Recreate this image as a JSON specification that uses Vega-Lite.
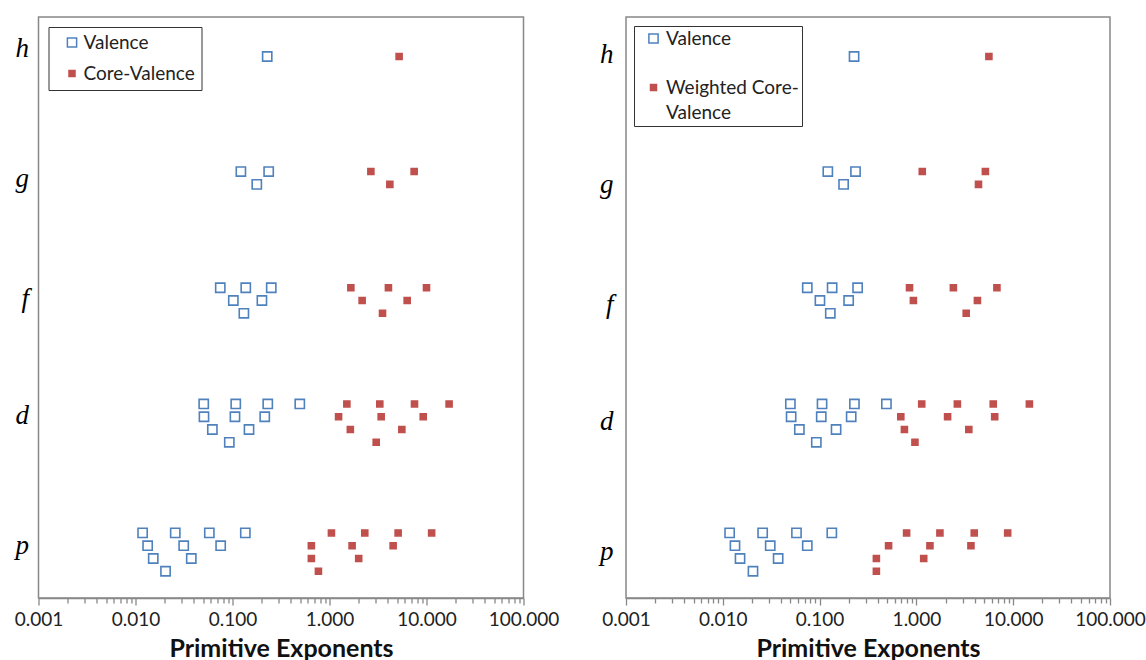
{
  "$schema": "https://vega.github.io/schema/vega-lite/v6.json",
  "padding": {"left": 12.5, "top": 16, "right": 0, "bottom": 0},
  "bounds": "flush",
  "spacing": 102.5,
  "datasets": {
    "left": [
      {"x": 0.228, "y": 4.66, "s": "Valence"},
      {"x": 0.122, "y": 3.67, "s": "Valence"},
      {"x": 0.236, "y": 3.67, "s": "Valence"},
      {"x": 0.178, "y": 3.56, "s": "Valence"},
      {"x": 0.0748, "y": 2.67, "s": "Valence"},
      {"x": 0.137, "y": 2.67, "s": "Valence"},
      {"x": 0.251, "y": 2.67, "s": "Valence"},
      {"x": 0.102, "y": 2.56, "s": "Valence"},
      {"x": 0.201, "y": 2.56, "s": "Valence"},
      {"x": 0.131, "y": 2.45, "s": "Valence"},
      {"x": 0.0505, "y": 1.67, "s": "Valence"},
      {"x": 0.108, "y": 1.67, "s": "Valence"},
      {"x": 0.231, "y": 1.67, "s": "Valence"},
      {"x": 0.494, "y": 1.67, "s": "Valence"},
      {"x": 0.0508, "y": 1.56, "s": "Valence"},
      {"x": 0.106, "y": 1.56, "s": "Valence"},
      {"x": 0.215, "y": 1.56, "s": "Valence"},
      {"x": 0.062, "y": 1.45, "s": "Valence"},
      {"x": 0.148, "y": 1.45, "s": "Valence"},
      {"x": 0.0927, "y": 1.34, "s": "Valence"},
      {"x": 0.01184, "y": 0.56, "s": "Valence"},
      {"x": 0.0257, "y": 0.56, "s": "Valence"},
      {"x": 0.0577, "y": 0.56, "s": "Valence"},
      {"x": 0.1356, "y": 0.56, "s": "Valence"},
      {"x": 0.01334, "y": 0.45, "s": "Valence"},
      {"x": 0.0314, "y": 0.45, "s": "Valence"},
      {"x": 0.0755, "y": 0.45, "s": "Valence"},
      {"x": 0.01524, "y": 0.34, "s": "Valence"},
      {"x": 0.0376, "y": 0.34, "s": "Valence"},
      {"x": 0.0204, "y": 0.23, "s": "Valence"},
      {"x": 5.22, "y": 4.66, "s": "Core-Valence"},
      {"x": 2.67, "y": 3.67, "s": "Core-Valence"},
      {"x": 7.46, "y": 3.67, "s": "Core-Valence"},
      {"x": 4.19, "y": 3.56, "s": "Core-Valence"},
      {"x": 1.66, "y": 2.67, "s": "Core-Valence"},
      {"x": 4.05, "y": 2.67, "s": "Core-Valence"},
      {"x": 10.0, "y": 2.67, "s": "Core-Valence"},
      {"x": 2.17, "y": 2.56, "s": "Core-Valence"},
      {"x": 6.32, "y": 2.56, "s": "Core-Valence"},
      {"x": 3.52, "y": 2.45, "s": "Core-Valence"},
      {"x": 1.51, "y": 1.67, "s": "Core-Valence"},
      {"x": 3.30, "y": 1.67, "s": "Core-Valence"},
      {"x": 7.52, "y": 1.67, "s": "Core-Valence"},
      {"x": 17.1, "y": 1.67, "s": "Core-Valence"},
      {"x": 1.24, "y": 1.56, "s": "Core-Valence"},
      {"x": 3.41, "y": 1.56, "s": "Core-Valence"},
      {"x": 9.25, "y": 1.56, "s": "Core-Valence"},
      {"x": 1.64, "y": 1.45, "s": "Core-Valence"},
      {"x": 5.57, "y": 1.45, "s": "Core-Valence"},
      {"x": 3.03, "y": 1.34, "s": "Core-Valence"},
      {"x": 1.047, "y": 0.56, "s": "Core-Valence"},
      {"x": 2.31, "y": 0.56, "s": "Core-Valence"},
      {"x": 5.10, "y": 0.56, "s": "Core-Valence"},
      {"x": 11.3, "y": 0.56, "s": "Core-Valence"},
      {"x": 0.650, "y": 0.45, "s": "Core-Valence"},
      {"x": 1.71, "y": 0.45, "s": "Core-Valence"},
      {"x": 4.53, "y": 0.45, "s": "Core-Valence"},
      {"x": 0.650, "y": 0.34, "s": "Core-Valence"},
      {"x": 2.0, "y": 0.34, "s": "Core-Valence"},
      {"x": 0.769, "y": 0.23, "s": "Core-Valence"}
    ],
    "right": [
      {"x": 0.227, "y": 4.66, "s": "Valence"},
      {"x": 0.1216, "y": 3.67, "s": "Valence"},
      {"x": 0.235, "y": 3.67, "s": "Valence"},
      {"x": 0.177, "y": 3.56, "s": "Valence"},
      {"x": 0.0746, "y": 2.67, "s": "Valence"},
      {"x": 0.1347, "y": 2.67, "s": "Valence"},
      {"x": 0.247, "y": 2.67, "s": "Valence"},
      {"x": 0.1008, "y": 2.56, "s": "Valence"},
      {"x": 0.1995, "y": 2.56, "s": "Valence"},
      {"x": 0.129, "y": 2.45, "s": "Valence"},
      {"x": 0.0499, "y": 1.67, "s": "Valence"},
      {"x": 0.106, "y": 1.67, "s": "Valence"},
      {"x": 0.229, "y": 1.67, "s": "Valence"},
      {"x": 0.49, "y": 1.67, "s": "Valence"},
      {"x": 0.0508, "y": 1.56, "s": "Valence"},
      {"x": 0.104, "y": 1.56, "s": "Valence"},
      {"x": 0.212, "y": 1.56, "s": "Valence"},
      {"x": 0.0618, "y": 1.45, "s": "Valence"},
      {"x": 0.148, "y": 1.45, "s": "Valence"},
      {"x": 0.0925, "y": 1.34, "s": "Valence"},
      {"x": 0.01176, "y": 0.56, "s": "Valence"},
      {"x": 0.0258, "y": 0.56, "s": "Valence"},
      {"x": 0.0577, "y": 0.56, "s": "Valence"},
      {"x": 0.1337, "y": 0.56, "s": "Valence"},
      {"x": 0.01336, "y": 0.45, "s": "Valence"},
      {"x": 0.0309, "y": 0.45, "s": "Valence"},
      {"x": 0.0746, "y": 0.45, "s": "Valence"},
      {"x": 0.01507, "y": 0.34, "s": "Valence"},
      {"x": 0.0373, "y": 0.34, "s": "Valence"},
      {"x": 0.0205, "y": 0.23, "s": "Valence"},
      {"x": 5.61, "y": 4.66, "s": "Weighted Core-Valence"},
      {"x": 1.15, "y": 3.67, "s": "Weighted Core-Valence"},
      {"x": 5.16, "y": 3.67, "s": "Weighted Core-Valence"},
      {"x": 4.38, "y": 3.56, "s": "Weighted Core-Valence"},
      {"x": 0.849, "y": 2.67, "s": "Weighted Core-Valence"},
      {"x": 2.41, "y": 2.67, "s": "Weighted Core-Valence"},
      {"x": 6.79, "y": 2.67, "s": "Weighted Core-Valence"},
      {"x": 0.931, "y": 2.56, "s": "Weighted Core-Valence"},
      {"x": 4.27, "y": 2.56, "s": "Weighted Core-Valence"},
      {"x": 3.27, "y": 2.45, "s": "Weighted Core-Valence"},
      {"x": 1.135, "y": 1.67, "s": "Weighted Core-Valence"},
      {"x": 2.65, "y": 1.67, "s": "Weighted Core-Valence"},
      {"x": 6.22, "y": 1.67, "s": "Weighted Core-Valence"},
      {"x": 14.7, "y": 1.67, "s": "Weighted Core-Valence"},
      {"x": 0.69, "y": 1.56, "s": "Weighted Core-Valence"},
      {"x": 2.10, "y": 1.56, "s": "Weighted Core-Valence"},
      {"x": 6.44, "y": 1.56, "s": "Weighted Core-Valence"},
      {"x": 0.752, "y": 1.45, "s": "Weighted Core-Valence"},
      {"x": 3.48, "y": 1.45, "s": "Weighted Core-Valence"},
      {"x": 0.966, "y": 1.34, "s": "Weighted Core-Valence"},
      {"x": 0.792, "y": 0.56, "s": "Weighted Core-Valence"},
      {"x": 1.75, "y": 0.56, "s": "Weighted Core-Valence"},
      {"x": 3.96, "y": 0.56, "s": "Weighted Core-Valence"},
      {"x": 8.77, "y": 0.56, "s": "Weighted Core-Valence"},
      {"x": 0.516, "y": 0.45, "s": "Weighted Core-Valence"},
      {"x": 1.38, "y": 0.45, "s": "Weighted Core-Valence"},
      {"x": 3.66, "y": 0.45, "s": "Weighted Core-Valence"},
      {"x": 0.386, "y": 0.34, "s": "Weighted Core-Valence"},
      {"x": 1.19, "y": 0.34, "s": "Weighted Core-Valence"},
      {"x": 0.386, "y": 0.23, "s": "Weighted Core-Valence"}
    ]
  },
  "hconcat": [
    {
      "width": 485,
      "height": 581,
      "data": {"name": "left"},
      "mark": {"type": "point", "shape": "square", "filled": true, "strokeWidth": 1.6, "opacity": 1},
      "encoding": {
        "x": {
          "field": "x", "type": "quantitative",
          "scale": {"type": "log", "domain": [0.001, 100], "nice": false},
          "axis": {
            "title": "Primitive Exponents",
            "values": [0.001,0.002,0.003,0.004,0.005,0.006,0.007,0.008,0.009,0.01,0.02,0.03,0.04,0.05,0.06,0.07,0.08,0.09,0.1,0.2,0.3,0.4,0.5,0.6,0.7,0.8,0.9,1,2,3,4,5,6,7,8,9,10,20,30,40,50,60,70,80,90,100],
            "labelExpr": "abs(log(datum.value)/LN10 - round(log(datum.value)/LN10)) < 0.001 ? format(datum.value, '.3f') : ''",
            "tickSize": {"condition": {"test": "abs(log(datum.value)/LN10 - round(log(datum.value)/LN10)) < 0.001", "value": 7}, "value": 5},
            "labelFlush": false,
            "labelOverlap": false,
            "labelPadding": 5,
            "titlePadding": 7
          }
        },
        "y": {
          "field": "y", "type": "quantitative",
          "scale": {"domain": [0, 5], "nice": false, "zero": false},
          "axis": {
            "title": null, "domain": false, "ticks": false,
            "values": [0.38, 1.50, 2.51, 3.54, 4.66],
            "labelExpr": "datum.value < 1 ? 'p' : datum.value < 2 ? 'd' : datum.value < 3 ? 'f' : datum.value < 4 ? 'g' : 'h'",
            "labelFont": "Liberation Serif", "labelFontStyle": "italic", "labelFontSize": 27,
            "labelBaseline": "alphabetic", "labelColor": "#000000", "labelPadding": 10
          }
        },
        "fill": {
          "field": "s", "type": "nominal",
          "scale": {"domain": ["Valence", "Core-Valence"], "range": ["#ffffff", "#C0504D"]},
          "legend": {"orient": "none", "legendX": 10, "legendY": 10, "title": null, "symbolType": "square", "padding": 6, "symbolOffset": 8, "labelOffset": 2, "rowPadding": 11,
            "labelExpr": "datum.label + '\u00a0\u00a0'"}
        },
        "stroke": {
          "field": "s", "type": "nominal",
          "scale": {"domain": ["Valence", "Core-Valence"], "range": ["#4F81BD", "#C0504D"]},
          "legend": {"orient": "none", "legendX": 10, "legendY": 10, "title": null, "symbolType": "square", "padding": 6, "symbolOffset": 8, "labelOffset": 2, "rowPadding": 11,
            "labelExpr": "datum.label + '\u00a0\u00a0'"}
        },
        "size": {
          "field": "s", "type": "nominal",
          "scale": {"domain": ["Valence", "Core-Valence"], "range": [85, 36]},
          "legend": {"orient": "none", "legendX": 10, "legendY": 10, "title": null, "symbolType": "square", "padding": 6, "symbolOffset": 8, "labelOffset": 2, "rowPadding": 11,
            "labelExpr": "datum.label + '\u00a0\u00a0'"}
        }
      }
    },
    {
      "width": 484,
      "height": 581,
      "data": {"name": "right"},
      "mark": {"type": "point", "shape": "square", "filled": true, "strokeWidth": 1.6, "opacity": 1},
      "encoding": {
        "x": {
          "field": "x", "type": "quantitative",
          "scale": {"type": "log", "domain": [0.001, 100], "nice": false},
          "axis": {
            "title": "Primitive Exponents",
            "values": [0.001,0.002,0.003,0.004,0.005,0.006,0.007,0.008,0.009,0.01,0.02,0.03,0.04,0.05,0.06,0.07,0.08,0.09,0.1,0.2,0.3,0.4,0.5,0.6,0.7,0.8,0.9,1,2,3,4,5,6,7,8,9,10,20,30,40,50,60,70,80,90,100],
            "labelExpr": "abs(log(datum.value)/LN10 - round(log(datum.value)/LN10)) < 0.001 ? format(datum.value, '.3f') : ''",
            "tickSize": {"condition": {"test": "abs(log(datum.value)/LN10 - round(log(datum.value)/LN10)) < 0.001", "value": 7}, "value": 5},
            "labelFlush": false,
            "labelOverlap": false,
            "labelPadding": 5,
            "titlePadding": 7
          }
        },
        "y": {
          "field": "y", "type": "quantitative",
          "scale": {"domain": [0, 5], "nice": false, "zero": false},
          "axis": {
            "title": null, "domain": false, "ticks": false,
            "values": [0.33, 1.45, 2.46, 3.49, 4.61],
            "labelExpr": "datum.value < 1 ? 'p' : datum.value < 2 ? 'd' : datum.value < 3 ? 'f' : datum.value < 4 ? 'g' : 'h'",
            "labelFont": "Liberation Serif", "labelFontStyle": "italic", "labelFontSize": 27,
            "labelBaseline": "alphabetic", "labelColor": "#000000", "labelPadding": 13
          }
        },
        "fill": {
          "field": "s", "type": "nominal",
          "scale": {"domain": ["Valence", "Weighted Core-Valence"], "range": ["#ffffff", "#C0504D"]},
          "legend": {"orient": "none", "legendX": 8, "legendY": 9, "title": null, "symbolType": "square", "padding": 3, "symbolOffset": 7, "labelOffset": 3, "rowPadding": 29,
            "labelExpr": "datum.label == 'Weighted Core-Valence' ? ['Weighted Core-\u00a0\u00a0', 'Valence'] : datum.label"}
        },
        "stroke": {
          "field": "s", "type": "nominal",
          "scale": {"domain": ["Valence", "Weighted Core-Valence"], "range": ["#4F81BD", "#C0504D"]},
          "legend": {"orient": "none", "legendX": 8, "legendY": 9, "title": null, "symbolType": "square", "padding": 3, "symbolOffset": 7, "labelOffset": 3, "rowPadding": 29,
            "labelExpr": "datum.label == 'Weighted Core-Valence' ? ['Weighted Core-\u00a0\u00a0', 'Valence'] : datum.label"}
        },
        "size": {
          "field": "s", "type": "nominal",
          "scale": {"domain": ["Valence", "Weighted Core-Valence"], "range": [85, 36]},
          "legend": {"orient": "none", "legendX": 8, "legendY": 9, "title": null, "symbolType": "square", "padding": 3, "symbolOffset": 7, "labelOffset": 3, "rowPadding": 29,
            "labelExpr": "datum.label == 'Weighted Core-Valence' ? ['Weighted Core-\u00a0\u00a0', 'Valence'] : datum.label"}
        }
      }
    }
  ],
  "resolve": {
    "scale": {"x": "independent", "y": "independent", "fill": "independent", "stroke": "independent", "size": "independent"},
    "legend": {"fill": "independent", "stroke": "independent", "size": "independent"},
    "axis": {"x": "independent", "y": "independent"}
  },
  "config": {
    "view": {"stroke": "#888888", "strokeWidth": 1.5},
    "style": {"guide-label": {"lineHeight": 25}},
    "axis": {
      "domainColor": "#888888", "domainWidth": 1.5, "tickColor": "#888888", "tickWidth": 1.3,
      "labelFont": "Lato", "labelFontSize": 19, "labelColor": "#222222",
      "titleFont": "Lato", "titleFontSize": 25, "titleFontWeight": "bold", "titleColor": "#111111",
      "grid": false
    },
    "legend": {
      "labelFont": "Lato", "labelFontSize": 19, "labelColor": "#222222",
      "strokeColor": "#333333", "fillColor": "#ffffff"
    }
  }
}
